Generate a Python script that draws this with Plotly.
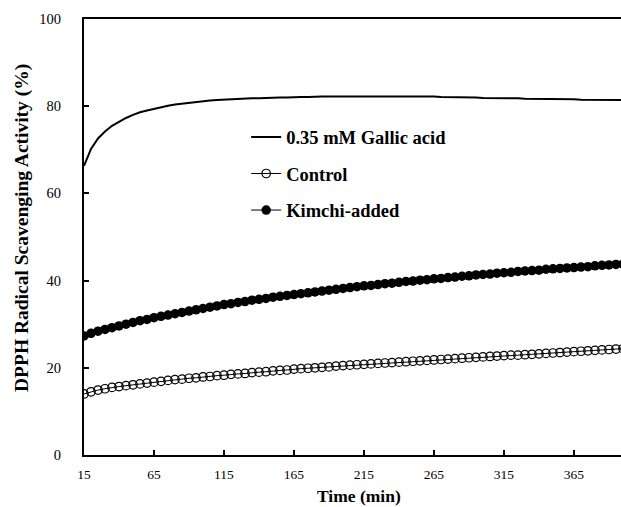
import plotly.graph_objects as go

time_min = list(range(15, 405, 5))

gallic_acid = [66.3, 70.2, 72.6, 74.2, 75.5, 76.5, 77.3, 78.0, 78.6, 79.0,
               79.4, 79.8, 80.1, 80.4, 80.6, 80.8, 81.0, 81.1, 81.3, 81.4,
               81.5, 81.6, 81.7, 81.7, 81.8, 81.8, 81.9, 81.9, 82.0, 82.0,
               82.1, 82.1, 82.1, 82.2, 82.2, 82.2, 82.2, 82.3, 82.3, 82.3,
               82.3, 82.3, 82.3, 82.3, 82.3, 82.3, 82.3, 82.2, 82.2, 82.2,
               82.2, 82.1, 82.1, 82.1, 82.0, 82.0, 82.0, 81.9, 81.9, 81.9,
               81.8, 81.8, 81.8, 81.7, 81.7, 81.7, 81.7, 81.6, 81.6, 81.6,
               81.6, 81.5, 81.5, 81.5, 81.5, 81.4, 81.4, 81.4]

control = [14.0, 14.5, 14.9, 15.2, 15.5, 15.7, 15.9, 16.1, 16.3, 16.5,
           16.7, 16.9, 17.1, 17.3, 17.4, 17.6, 17.7, 17.9, 18.0, 18.2,
           18.3, 18.5, 18.6, 18.7, 18.9, 19.0, 19.1, 19.3, 19.4, 19.5,
           19.7, 19.8, 19.9, 20.0, 20.1, 20.2, 20.4, 20.5, 20.6, 20.7,
           20.8, 20.9, 21.0, 21.1, 21.2, 21.3, 21.4, 21.5, 21.6, 21.7,
           21.8, 21.9, 22.0, 22.1, 22.2, 22.3, 22.4, 22.5, 22.6, 22.7,
           22.8, 22.9, 22.9, 23.0, 23.1, 23.2, 23.3, 23.4, 23.5, 23.6,
           23.7, 23.8, 23.9, 24.0, 24.1, 24.2, 24.3, 24.4]

kimchi_added = [27.3, 27.9, 28.4, 28.8, 29.2, 29.6, 30.0, 30.4, 30.8, 31.1,
                31.5, 31.8, 32.1, 32.4, 32.7, 33.0, 33.3, 33.6, 33.9, 34.2,
                34.5, 34.7, 35.0, 35.2, 35.5, 35.7, 35.9, 36.2, 36.4, 36.6,
                36.8, 37.0, 37.2, 37.4, 37.6, 37.8, 38.0, 38.2, 38.4, 38.6,
                38.8, 38.9, 39.1, 39.3, 39.4, 39.6, 39.8, 39.9, 40.1, 40.2,
                40.4, 40.5, 40.7, 40.8, 41.0, 41.1, 41.3, 41.4, 41.5, 41.7,
                41.8, 41.9, 42.1, 42.2, 42.3, 42.4, 42.6, 42.7, 42.8, 42.9,
                43.0, 43.1, 43.2, 43.4, 43.5, 43.6, 43.7, 43.8]

x_ticks = [15, 65, 115, 165, 215, 265, 315, 365]
y_ticks = [0, 20, 40, 60, 80, 100]

FONT = "Liberation Serif, Times New Roman, serif"

fig = go.Figure()
fig.add_trace(go.Scatter(
    x=time_min, y=gallic_acid, mode="lines", name="0.35 mM Gallic acid",
    line=dict(color="black", width=2), legendgroup="a"))
fig.add_trace(go.Scatter(
    x=time_min, y=control, mode="lines+markers", name="Control",
    line=dict(color="black", width=1),
    marker=dict(symbol="circle-open", size=8.5, color="black", line=dict(width=1.2)),
    legendgroup="b"))
fig.add_trace(go.Scatter(
    x=time_min, y=kimchi_added, mode="lines+markers", name="Kimchi-added",
    line=dict(color="black", width=1),
    marker=dict(symbol="circle", size=9.5, color="black"),
    legendgroup="c"))

fig.update_layout(
    width=621, height=507,
    margin=dict(l=84, r=0, t=19, b=52),
    paper_bgcolor="white", plot_bgcolor="white",
    font=dict(family=FONT, size=14.5, color="black"),
    showlegend=True,
    legend=dict(x=0.302, y=0.772, xanchor="left", yanchor="top",
                font=dict(family=FONT, size=18.5, color="black", weight="bold"),
                tracegroupgap=9.5, bgcolor="rgba(0,0,0,0)", itemwidth=30),
    xaxis=dict(range=[15, 398.6], tickvals=x_ticks, ticks="inside", ticklen=5,
               tickwidth=1.5, tickcolor="black", showline=True, linecolor="black",
               linewidth=2, mirror=True, showgrid=False, zeroline=False,
               ticklabelstandoff=6, tickfont=dict(size=13.5),
               automargin=False),
    yaxis=dict(range=[0, 100], tickvals=y_ticks, ticks="inside", ticklen=5,
               tickwidth=1.5, tickcolor="black", showline=True, linecolor="black",
               linewidth=2, showgrid=False, zeroline=False,
               ticklabelstandoff=18, automargin=False),
    annotations=[
        dict(text="<b>Time (min)</b>", xref="paper", yref="paper",
             x=(359 - 84) / 537, y=-(506.5 - 455) / 436, xanchor="center", yanchor="bottom",
             showarrow=False, borderpad=0,
             font=dict(family=FONT, size=17.5, color="black")),
        dict(text="<b>DPPH Radical Scavenging Activity (%)</b>", xref="paper", yref="paper",
             x=-(84 - 22) / 537, y=(455 - 228) / 436, xanchor="center", yanchor="middle",
             textangle=-90, showarrow=False,
             font=dict(family=FONT, size=19.5, color="black")),
    ],
)

fig.write_html("out.html", config={"displayModeBar": False},
               post_script="document.body.style.margin='0';document.body.style.overflow='hidden';")
